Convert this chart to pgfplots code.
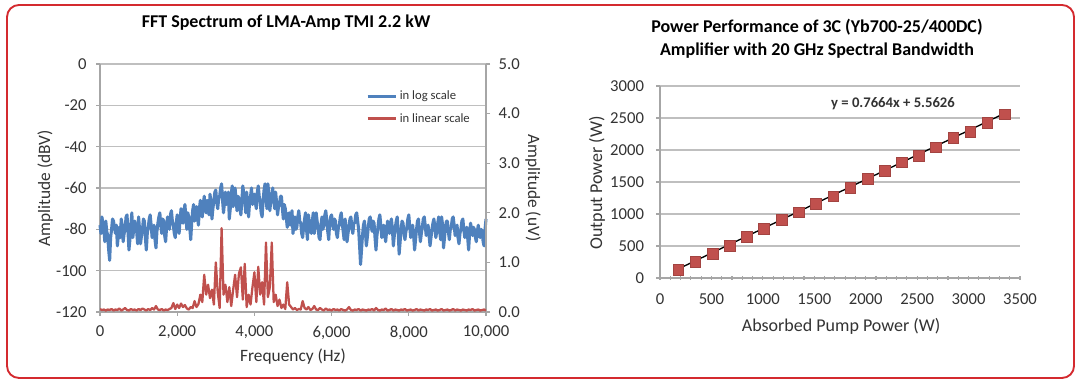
\documentclass[border=0pt]{standalone}
\usepackage{fontspec}
\setmainfont{Carlito}
\usepackage{pgfplots}
\usepackage{pgfplotstable}
\pgfplotsset{compat=1.18}
\definecolor{xlblue}{HTML}{4F81BD}
\definecolor{xlred}{HTML}{C0504D}
\definecolor{gridc}{HTML}{BFBFBF}
\definecolor{axc}{HTML}{A6A6A6}
\definecolor{txt}{HTML}{333333}
\definecolor{frame}{HTML}{D42A2F}

\pgfplotstableread[row sep=\\]{
f v\\
0 -78\\ 25 -82\\ 50 -74\\ 75 -77\\ 100 -80\\ 125 -86\\ 150 -76\\ 175 -81\\ 200 -83\\ 225 -90\\
250 -95\\ 275 -84\\ 300 -80\\ 325 -75\\ 350 -76\\ 375 -79\\ 400 -82\\ 425 -78\\ 450 -88\\ 475 -83\\
500 -79\\ 525 -84\\ 550 -75\\ 575 -78\\ 600 -86\\ 625 -82\\ 650 -80\\ 675 -74\\ 700 -73\\ 725 -81\\
750 -90\\ 775 -85\\ 800 -78\\ 825 -72\\ 850 -84\\ 875 -80\\ 900 -76\\ 925 -79\\ 950 -81\\ 975 -87\\
1000 -74\\ 1025 -80\\ 1050 -87\\ 1075 -83\\ 1100 -80\\ 1125 -75\\ 1150 -76\\ 1175 -84\\ 1200 -90\\ 1225 -82\\
1250 -79\\ 1275 -75\\ 1300 -73\\ 1325 -78\\ 1350 -84\\ 1375 -80\\ 1400 -78\\ 1425 -85\\ 1450 -89\\ 1475 -81\\
1500 -77\\ 1525 -74\\ 1550 -72\\ 1575 -78\\ 1600 -82\\ 1625 -75\\ 1650 -76\\ 1675 -83\\ 1700 -86\\ 1725 -79\\
1750 -74\\ 1775 -78\\ 1800 -80\\ 1825 -73\\ 1850 -71\\ 1875 -76\\ 1900 -78\\ 1925 -82\\ 1950 -84\\ 1975 -77\\
2000 -73\\ 2025 -79\\ 2050 -82\\ 2075 -75\\ 2100 -70\\ 2125 -76\\ 2150 -77\\ 2175 -71\\ 2200 -68\\ 2225 -74\\
2250 -80\\ 2275 -72\\ 2300 -74\\ 2325 -79\\ 2350 -85\\ 2375 -77\\ 2400 -71\\ 2425 -68\\ 2450 -76\\ 2475 -72\\
2500 -69\\ 2525 -74\\ 2550 -78\\ 2575 -70\\ 2600 -66\\ 2625 -72\\ 2650 -74\\ 2675 -68\\ 2700 -64\\ 2725 -70\\
2750 -72\\ 2775 -66\\ 2800 -68\\ 2825 -73\\ 2850 -63\\ 2875 -67\\ 2900 -75\\ 2925 -70\\ 2950 -66\\ 2975 -62\\
3000 -61\\ 3025 -67\\ 3050 -70\\ 3075 -65\\ 3100 -64\\ 3125 -60\\ 3150 -58\\ 3175 -66\\ 3200 -72\\ 3225 -67\\
3250 -62\\ 3275 -68\\ 3300 -67\\ 3325 -62\\ 3350 -75\\ 3375 -70\\ 3400 -63\\ 3425 -59\\ 3450 -69\\ 3475 -64\\
3500 -60\\ 3525 -66\\ 3550 -71\\ 3575 -64\\ 3600 -65\\ 3625 -70\\ 3650 -73\\ 3675 -66\\ 3700 -59\\ 3725 -63\\
3750 -66\\ 3775 -72\\ 3800 -62\\ 3825 -68\\ 3850 -74\\ 3875 -67\\ 3900 -64\\ 3925 -60\\ 3950 -68\\ 3975 -65\\
4000 -63\\ 4025 -67\\ 4050 -70\\ 4075 -62\\ 4100 -59\\ 4125 -64\\ 4150 -67\\ 4175 -72\\ 4200 -74\\ 4225 -66\\
4250 -61\\ 4275 -58\\ 4300 -65\\ 4325 -70\\ 4350 -58\\ 4375 -63\\ 4400 -71\\ 4425 -66\\ 4450 -64\\ 4475 -60\\
4500 -66\\ 4525 -70\\ 4550 -62\\ 4575 -67\\ 4600 -73\\ 4625 -69\\ 4650 -68\\ 4675 -64\\ 4700 -64\\ 4725 -70\\
4750 -75\\ 4775 -68\\ 4800 -70\\ 4825 -74\\ 4850 -79\\ 4875 -73\\ 4900 -72\\ 4925 -78\\ 4950 -76\\ 4975 -71\\
5000 -82\\ 5025 -77\\ 5050 -74\\ 5075 -80\\ 5100 -79\\ 5125 -74\\ 5150 -71\\ 5175 -76\\ 5200 -77\\ 5225 -82\\
5250 -84\\ 5275 -79\\ 5300 -75\\ 5325 -72\\ 5350 -80\\ 5375 -85\\ 5400 -73\\ 5425 -77\\ 5450 -78\\ 5475 -82\\
5500 -76\\ 5525 -72\\ 5550 -82\\ 5575 -78\\ 5600 -72\\ 5625 -76\\ 5650 -79\\ 5675 -84\\ 5700 -85\\ 5725 -78\\
5750 -74\\ 5775 -80\\ 5800 -78\\ 5825 -73\\ 5850 -71\\ 5875 -76\\ 5900 -81\\ 5925 -85\\ 5950 -77\\ 5975 -74\\
6000 -73\\ 6025 -78\\ 6050 -80\\ 6075 -75\\ 6100 -76\\ 6125 -82\\ 6150 -84\\ 6175 -79\\ 6200 -78\\ 6225 -74\\
6250 -72\\ 6275 -77\\ 6300 -81\\ 6325 -85\\ 6350 -75\\ 6375 -79\\ 6400 -86\\ 6425 -82\\ 6450 -79\\ 6475 -75\\
6500 -74\\ 6525 -79\\ 6550 -82\\ 6575 -77\\ 6600 -77\\ 6625 -73\\ 6650 -72\\ 6675 -76\\ 6700 -80\\ 6725 -88\\
6750 -97\\ 6775 -90\\ 6800 -83\\ 6825 -78\\ 6850 -76\\ 6875 -81\\ 6900 -88\\ 6925 -84\\ 6950 -79\\ 6975 -75\\
7000 -74\\ 7025 -78\\ 7050 -81\\ 7075 -76\\ 7100 -77\\ 7125 -84\\ 7150 -90\\ 7175 -83\\ 7200 -79\\ 7225 -75\\
7250 -73\\ 7275 -78\\ 7300 -84\\ 7325 -80\\ 7350 -78\\ 7375 -82\\ 7400 -86\\ 7425 -81\\ 7450 -76\\ 7475 -79\\
7500 -82\\ 7525 -77\\ 7550 -75\\ 7575 -80\\ 7600 -88\\ 7625 -83\\ 7650 -79\\ 7675 -76\\ 7700 -74\\ 7725 -81\\
7750 -92\\ 7775 -86\\ 7800 -80\\ 7825 -76\\ 7850 -77\\ 7875 -82\\ 7900 -85\\ 7925 -81\\ 7950 -79\\ 7975 -75\\
8000 -73\\ 8025 -79\\ 8050 -84\\ 8075 -80\\ 8100 -78\\ 8125 -83\\ 8150 -90\\ 8175 -85\\ 8200 -80\\ 8225 -76\\
8250 -75\\ 8275 -81\\ 8300 -86\\ 8325 -82\\ 8350 -79\\ 8375 -75\\ 8400 -74\\ 8425 -78\\ 8450 -83\\ 8475 -80\\
8500 -78\\ 8525 -83\\ 8550 -88\\ 8575 -84\\ 8600 -80\\ 8625 -77\\ 8650 -75\\ 8675 -79\\ 8700 -84\\ 8725 -81\\
8750 -77\\ 8775 -74\\ 8800 -81\\ 8825 -85\\ 8850 -74\\ 8875 -78\\ 8900 -89\\ 8925 -84\\ 8950 -79\\ 8975 -76\\
9000 -76\\ 9025 -81\\ 9050 -85\\ 9075 -80\\ 9100 -79\\ 9125 -75\\ 9150 -74\\ 9175 -78\\ 9200 -83\\ 9225 -80\\
9250 -78\\ 9275 -84\\ 9300 -87\\ 9325 -82\\ 9350 -80\\ 9375 -76\\ 9400 -75\\ 9425 -80\\ 9450 -84\\ 9475 -81\\
9500 -79\\ 9525 -84\\ 9550 -90\\ 9575 -82\\ 9600 -77\\ 9625 -80\\ 9650 -83\\ 9675 -79\\ 9700 -80\\ 9725 -84\\
9750 -86\\ 9775 -81\\ 9800 -78\\ 9825 -82\\ 9850 -84\\ 9875 -80\\ 9900 -81\\ 9925 -86\\ 9950 -88\\ 9975 -80\\
10000 -75\\
}\logdata

\pgfplotstableread[row sep=\\]{
f u\\
0 0.06\\ 50 0.04\\ 100 0.05\\ 150 0.03\\ 200 0.05\\ 250 0.04\\ 300 0.06\\ 350 0.03\\ 400 0.05\\ 450 0.04\\
500 0.07\\ 550 0.03\\ 600 0.05\\ 650 0.08\\ 700 0.04\\ 750 0.03\\ 800 0.06\\ 850 0.04\\ 900 0.05\\ 950 0.03\\
1000 0.06\\ 1050 0.04\\ 1100 0.07\\ 1150 0.05\\ 1200 0.03\\ 1250 0.06\\ 1300 0.04\\ 1350 0.08\\ 1400 0.05\\ 1450 0.12\\
1500 0.05\\ 1550 0.04\\ 1600 0.06\\ 1650 0.03\\ 1700 0.05\\ 1750 0.04\\ 1800 0.06\\ 1850 0.08\\ 1900 0.18\\ 1950 0.06\\
2000 0.15\\ 2050 0.08\\ 2100 0.17\\ 2150 0.10\\ 2200 0.14\\ 2250 0.07\\ 2300 0.05\\ 2350 0.10\\ 2400 0.08\\ 2450 0.22\\
2500 0.10\\ 2550 0.16\\ 2600 0.35\\ 2650 0.20\\ 2700 0.75\\ 2750 0.35\\ 2800 0.55\\ 2850 0.28\\ 2900 0.45\\ 2950 0.15\\
3000 1.00\\ 3050 0.40\\ 3100 0.08\\ 3150 1.69\\ 3200 0.35\\ 3250 0.55\\ 3300 0.20\\ 3350 0.50\\ 3400 0.12\\ 3450 0.45\\
3500 0.75\\ 3550 0.30\\ 3600 0.78\\ 3650 0.90\\ 3700 0.25\\ 3750 0.97\\ 3800 0.10\\ 3850 0.35\\ 3900 0.15\\ 3950 0.50\\
4000 0.80\\ 4050 0.20\\ 4100 0.91\\ 4150 0.35\\ 4200 0.60\\ 4250 0.15\\ 4300 1.40\\ 4350 0.30\\ 4400 0.50\\ 4450 1.40\\
4500 0.20\\ 4550 0.35\\ 4600 0.12\\ 4650 0.25\\ 4700 0.08\\ 4750 0.15\\ 4800 0.06\\ 4850 0.60\\ 4900 0.15\\ 4950 0.10\\
5000 0.05\\ 5050 0.08\\ 5100 0.04\\ 5150 0.06\\ 5200 0.05\\ 5250 0.22\\ 5300 0.08\\ 5350 0.05\\ 5400 0.10\\ 5450 0.04\\
5500 0.06\\ 5550 0.12\\ 5600 0.05\\ 5650 0.04\\ 5700 0.08\\ 5750 0.05\\ 5800 0.03\\ 5850 0.07\\ 5900 0.04\\ 5950 0.05\\
6000 0.03\\ 6050 0.06\\ 6100 0.04\\ 6150 0.05\\ 6200 0.03\\ 6250 0.06\\ 6300 0.04\\ 6350 0.03\\ 6400 0.05\\ 6450 0.10\\
6500 0.04\\ 6550 0.03\\ 6600 0.05\\ 6650 0.04\\ 6700 0.06\\ 6750 0.03\\ 6800 0.05\\ 6850 0.04\\ 6900 0.03\\ 6950 0.05\\
7000 0.04\\ 7050 0.06\\ 7100 0.03\\ 7150 0.08\\ 7200 0.04\\ 7250 0.03\\ 7300 0.05\\ 7350 0.04\\ 7400 0.07\\ 7450 0.03\\
7500 0.04\\ 7550 0.06\\ 7600 0.03\\ 7650 0.05\\ 7700 0.04\\ 7750 0.03\\ 7800 0.05\\ 7850 0.04\\ 7900 0.06\\ 7950 0.03\\
8000 0.04\\ 8050 0.05\\ 8100 0.03\\ 8150 0.04\\ 8200 0.06\\ 8250 0.03\\ 8300 0.05\\ 8350 0.04\\ 8400 0.03\\ 8450 0.05\\
8500 0.04\\ 8550 0.06\\ 8600 0.03\\ 8650 0.04\\ 8700 0.05\\ 8750 0.03\\ 8800 0.04\\ 8850 0.06\\ 8900 0.03\\ 8950 0.04\\
9000 0.05\\ 9050 0.03\\ 9100 0.04\\ 9150 0.06\\ 9200 0.03\\ 9250 0.05\\ 9300 0.04\\ 9350 0.03\\ 9400 0.05\\ 9450 0.04\\
9500 0.03\\ 9550 0.05\\ 9600 0.04\\ 9650 0.06\\ 9700 0.03\\ 9750 0.04\\ 9800 0.05\\ 9850 0.03\\ 9900 0.04\\ 9950 0.05\\
10000 0.03\\
}\lindata

\pgfplotstableread{
p o
177 130
343 250
510 380
677 505
843 645
1010 765
1183 910
1350 1025
1517 1155
1683 1275
1850 1415
2017 1550
2183 1680
2350 1810
2517 1915
2683 2045
2850 2195
3017 2290
3183 2430
3350 2560
}\powdata

\begin{document}
\begin{tikzpicture}
\path[use as bounding box] (0,0) rectangle (810pt,288pt);
\fill[white] (0,0) rectangle (810pt,288pt);
\draw[frame, line width=1.4pt, rounded corners=9pt] (5.25pt,4.5pt) rectangle (805.5pt,284.25pt);

\pgfplotsset{
  common/.style={
    scale only axis,
    /pgf/number format/assume math mode=true,
    tick label style={font=\fontsize{12.5}{14}\selectfont, text=txt},
    label style={font=\fontsize{13}{15}\selectfont, text=txt},
    axis line style={draw=axc, line width=0.9pt},
    major tick style={draw=axc, line width=0.9pt},
    minor tick style={draw=axc, line width=0.9pt},
    tick align=outside,
    major tick length=3pt,
  }
}

% ---------- left chart, primary axis ----------
\begin{axis}[common,
  at={(75pt,54pt)}, anchor=south west,
  width=289.5pt, height=186pt,
  xmin=0, xmax=10000, ymin=-120, ymax=0,
  axis x line*=bottom, axis y line*=left,
  xtick={0,2000,4000,6000,8000,10000},
  ytick={-120,-100,-80,-60,-40,-20,0},
  xticklabel style={yshift=-4pt, /pgf/number format/1000 sep={,}},
  yticklabel style={xshift=-3.5pt},
  scaled x ticks=false,
  ymajorgrids, grid style={draw=gridc, line width=0.9pt},
  xlabel={Frequency (Hz)}, ylabel={Amplitude (dBV)},
  xlabel style={at={(axis description cs:0.5,-0.181)}, anchor=center},
  ylabel style={at={(axis description cs:-0.142,0.5)}, anchor=center, rotate=0},
  title={\textbf{FFT Spectrum of LMA-Amp TMI 2.2 kW}},
  title style={at={(axis description cs:0.482,1.133)}, anchor=center, font=\fontsize{13.5}{15}\selectfont},
  clip=false,
]
\addplot[xlblue, line width=2.3pt, line join=round] table[x=f, y=v] {\logdata};
\end{axis}

% ---------- left chart, secondary axis ----------
\begin{axis}[common,
  at={(75pt,54pt)}, anchor=south west,
  width=289.5pt, height=186pt,
  xmin=0, xmax=10000, ymin=0, ymax=5,
  axis x line=none, axis y line*=right,
  ytick={0,1,2,3,4,5},
  yticklabel style={xshift=3pt, /pgf/number format/.cd, fixed, fixed zerofill, precision=1},
  ylabel={Amplitude (uV)},
  ylabel style={at={(axis description cs:1.122,0.5)}, anchor=center, rotate=180},
  legend style={at={(0.976,0.915)}, anchor=north east, draw=none, fill=none,
     font=\fontsize{9.5}{11}\selectfont, text=txt, row sep=5pt,
     /tikz/every even column/.append style={column sep=0pt}},
  legend cell align=left,
  legend image code/.code={\draw[#1, line width=2.3pt] (0pt,0pt) -- (21pt,0pt);},
]
\addlegendimage{xlblue}
\addlegendentry{in log scale}
\addplot[xlred, line width=1.7pt, line join=round] table[x=f, y=u] {\lindata};
\addlegendentry{in linear scale}
\end{axis}

% ---------- right chart ----------
\begin{axis}[common,
  at={(495pt,79.5pt)}, anchor=south west,
  width=270pt, height=144pt,
  xmin=0, xmax=3500, ymin=0, ymax=3000,
  axis x line*=bottom, axis y line*=left,
  xtick={0,500,...,3500}, ytick={0,500,...,3000},
  minor x tick num=4,
  xtick align=center,
  minor tick length=2.5pt,
  scaled ticks=false,
  label style={font=\fontsize{13.5}{15}\selectfont},
  xticklabel style={yshift=-6.5pt, /pgf/number format/1000 sep={}},
  yticklabel style={xshift=-5.5pt, /pgf/number format/1000 sep={}},
  ymajorgrids, grid style={draw=gridc, line width=0.9pt},
  xlabel={Absorbed Pump Power (W)}, ylabel={Output Power (W)},
  xlabel style={at={(axis description cs:0.503,-0.25)}, anchor=center},
  ylabel style={at={(axis description cs:-0.175,0.495)}, anchor=center},
  title={\textbf{Power Performance of 3C (Yb700-25/400DC)}\\\textbf{Amplifier with 20 GHz Spectral Bandwidth}},
  title style={at={(axis description cs:0.436,1.206)}, anchor=center, align=center, font=\fontsize{13.5}{17.25}\selectfont},
  clip=false,
]
\addplot[only marks, mark=square*, mark size=4pt, mark options={fill=xlred, draw=xlred!85!black, line width=0.4pt}] table[x=p, y=o] {\powdata};
\addplot[black, line width=1pt] coordinates {(177,141.2) (3350,2573.0)};
\node[font=\fontsize{11}{13}\selectfont\bfseries, text=txt] at (axis cs:2265,2719) {y = 0.7664x + 5.5626};
\end{axis}
\end{tikzpicture}
\end{document}
